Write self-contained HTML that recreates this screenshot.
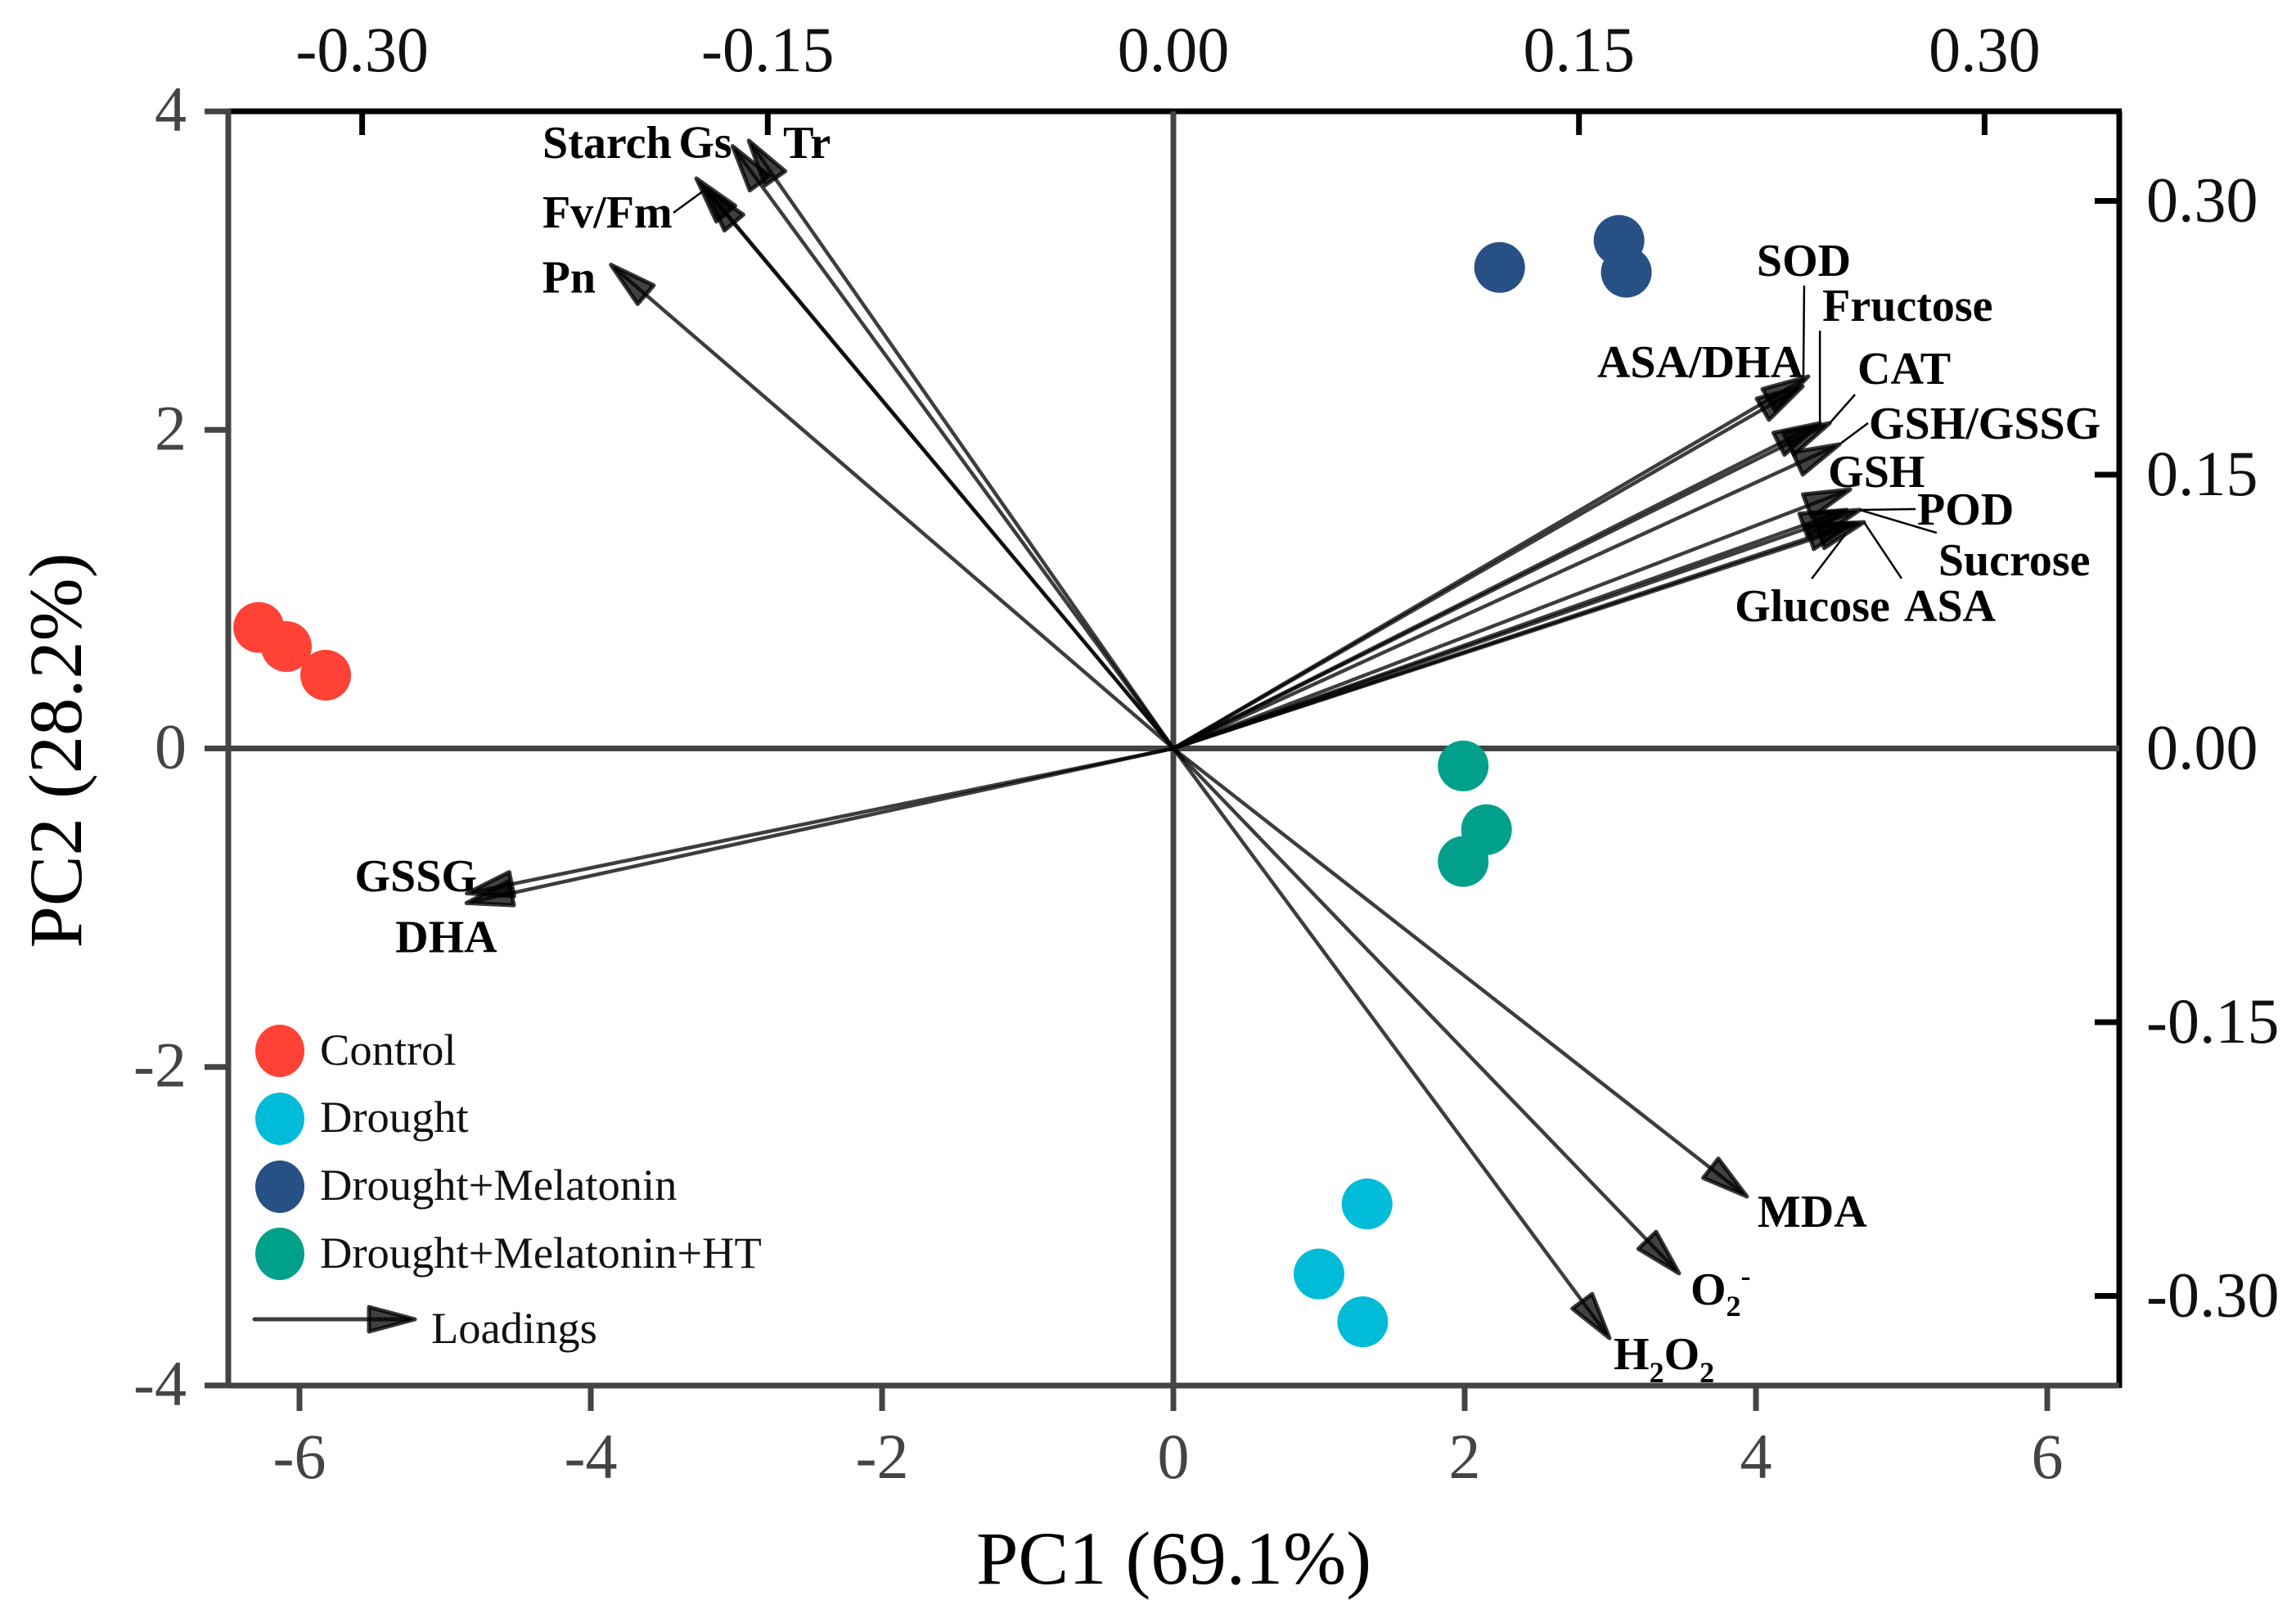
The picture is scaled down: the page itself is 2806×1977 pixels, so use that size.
<!DOCTYPE html>
<html lang="en">
<head>
<meta charset="utf-8">
<title>PCA biplot</title>
<style>
html,body{margin:0;padding:0;background:#fff;}
svg{display:block;font-family:"Liberation Serif",serif;}
</style>
</head>
<body>
<svg id="chart" xmlns="http://www.w3.org/2000/svg" width="2806" height="1977" viewBox="0 0 2806 1977">
  <rect x="0" y="0" width="2806" height="1977" fill="#fff"/>
  <g id="frame"></g>
  <g id="loadings"></g>
  <g id="scores"></g>
  <g id="labels"></g>
  <text x="1434.5" y="1935" font-size="92.5" text-anchor="middle" fill="#000">PC1 (69.1%)</text>
  <text transform="translate(99,917) rotate(-90)" font-size="92.5" text-anchor="middle" fill="#000">PC2 (28.2%)</text>
  <g font-size="54.5" fill="#111">
    <ellipse cx="342" cy="1284" rx="30" ry="32" fill="#ff4136"/>
    <text x="391" y="1301">Control</text>
    <ellipse cx="342" cy="1367" rx="30" ry="32" fill="#00bcd8"/>
    <text x="391" y="1383">Drought</text>
    <ellipse cx="342" cy="1450" rx="30" ry="32" fill="#275084"/>
    <text x="391" y="1466">Drought+Melatonin</text>
    <ellipse cx="342" cy="1532" rx="30" ry="32" fill="#00a08a"/>
    <text x="391" y="1549">Drought+Melatonin+HT</text>
    <line x1="311" y1="1612" x2="500" y2="1612" stroke="#000" stroke-opacity="0.76" stroke-width="5" stroke-linecap="round"/>
    <polygon points="507,1612 451,1597 451,1627" fill="#000" fill-opacity="0.74" stroke="#000" stroke-opacity="0.78" stroke-width="5" stroke-linejoin="round"/>
    <text x="527" y="1641">Loadings</text>
  </g>
</svg>
<script>
// ---- chart data ----
var pc1Ticks = [-6, -4, -2, 0, 2, 4, 6];
var pc2Ticks = [-4, -2, 0, 2, 4];
var loadingXTicks = [-0.30, -0.15, 0, 0.15, 0.30];
var loadingYTicks = [-0.30, -0.15, 0, 0.15, 0.30];

var controlPC1 = [-6.28, -6.09, -5.82];
var controlPC2 = [0.76, 0.64, 0.46];
var droughtPC1 = [1.33, 1.00, 1.30];
var droughtPC2 = [-2.86, -3.30, -3.60];
var melatoninPC1 = [2.24, 3.06, 3.11];
var melatoninPC2 = [3.02, 3.19, 2.99];
var melatoninHTPC1 = [1.99, 2.15, 1.99];
var melatoninHTPC2 = [-0.11, -0.51, -0.71];

var variableNames = ["Tr", "Gs", "Starch", "Fv/Fm", "Pn", "SOD", "ASA/DHA", "CAT", "Fructose", "GSH/GSSG", "GSH", "POD", "Sucrose", "ASA", "Glucose", "GSSG", "DHA", "MDA", "O2-", "H2O2"];
var loadingX = [-0.157, -0.163, -0.1764, -0.1734, -0.208, 0.2348, 0.2327, 0.2427, 0.2391, 0.2463, 0.2503, 0.2539, 0.2490, 0.2554, 0.2515, -0.2613, -0.2614, 0.2121, 0.1870, 0.1613];
var loadingY = [0.333, 0.330, 0.3123, 0.3074, 0.265, 0.2038, 0.1984, 0.1782, 0.1782, 0.1666, 0.1419, 0.1307, 0.1307, 0.1240, 0.1235, -0.0794, -0.0847, -0.2455, -0.2876, -0.3231];

// ---- axis functions ----
var plotLeft = 279, plotRight = 2590, plotTop = 136, plotBottom = 1693;
function xScale(v) { return 1434 + 178 * v; }
function yScale(v) { return 914.5 - 194.6 * v; }
function loadX(v) { return 1434 + v / 0.15 * 495.7; }
function loadY(v) { return 914.5 - v / 0.15 * 334.5; }

// ---- annotation layout (offsets from arrow tip) ----
var labelOffsets = {
  "Tr": [42, 21], "Gs": [-66, 14], "Starch": [-188, -25], "Fv/Fm": [-198, 49], "Pn": [-84, 34],
  "SOD": [-63, -123], "ASA/DHA": [-251, -11], "CAT": [34, -48], "Fructose": [3, -125],
  "GSH/GSSG": [36, -7], "GSH": [-27, -3], "POD": [70, 18], "Sucrose": [112, 80],
  "ASA": [49, 121], "Glucose": [-145, 120], "GSSG": [-137, -2.5], "DHA": [-87, 60],
  "MDA": [13, 37], "O2-": [14, 38], "H2O2": [5, 38]
};
var leaderOffsets = {
  "Fv/Fm": [-1, 4, -38, 31],
  "SOD": [-6, 0, -5, -111],
  "Fructose": [0, 0, 0, -113],
  "CAT": [0, 0, 31, -35],
  "GSH/GSSG": [0, 0, 35, -26],
  "POD": [0, 0, 68, -1],
  "Sucrose": [16, 0, 110, 28],
  "ASA": [0, 0, 46, 69],
  "Glucose": [-10, 14, -51, 68]
};
var labelRuns = {
  "O2-": [["O", 0, 56], ["2", 14, 36], ["-", -37, 36]],
  "H2O2": [["H", 0, 56], ["2", 16, 36], ["O", -16, 56], ["2", 16, 36]]
};

var NS = "http://www.w3.org/2000/svg";
function make(tag, parent, attrs) {
  var el = document.createElementNS(NS, tag);
  for (var k in attrs) el.setAttribute(k, attrs[k]);
  parent.appendChild(el);
  return el;
}
function slug(s) { return s.toLowerCase().replace(/[^a-z0-9]+/g, "-").replace(/-$/, ""); }

var frame = document.getElementById("frame");
var axisGray = "#444444";
var axisBlack = "#000000";

// ---- secondary axes (black) ----
var topAxis = make("line", frame, {x1: plotLeft, y1: plotTop, x2: plotRight + 3, y2: plotTop, stroke: axisBlack, "stroke-width": 7});


var rightAxis = make("line", frame, {x1: plotRight, y1: plotTop, x2: plotRight, y2: plotBottom + 3, stroke: axisBlack, "stroke-width": 7});



loadingXTicks.forEach(function (v) {
  var px = loadX(v);
  var tick = make("line", frame, {x1: px, y1: plotTop, x2: px, y2: 165, stroke: axisBlack, "stroke-width": 7});
  
  
  var label = make("text", frame, {x: px, y: 87, "font-size": 78, "text-anchor": "middle", fill: "#111"});
  
  
  label.textContent = v.toFixed(2);
});
loadingYTicks.forEach(function (v) {
  var py = loadY(v);
  var tick = make("line", frame, {x1: 2560, y1: py, x2: plotRight, y2: py, stroke: axisBlack, "stroke-width": 7});
  
  
  var label = make("text", frame, {x: 2623, y: py + 25, "font-size": 78, fill: "#111"});
  
  
  label.textContent = v.toFixed(2);
});

// ---- primary axes (gray) ----
var leftAxis = make("line", frame, {x1: plotLeft, y1: plotTop - 3, x2: plotLeft, y2: plotBottom + 3, stroke: axisGray, "stroke-width": 7});


var bottomAxis = make("line", frame, {x1: plotLeft, y1: plotBottom, x2: plotRight, y2: plotBottom, stroke: axisGray, "stroke-width": 7});


var zeroV = make("line", frame, {x1: xScale(0), y1: plotTop, x2: xScale(0), y2: plotBottom, stroke: axisGray, "stroke-width": 7});


var zeroH = make("line", frame, {x1: plotLeft, y1: yScale(0), x2: plotRight, y2: yScale(0), stroke: axisGray, "stroke-width": 7});



pc1Ticks.forEach(function (v) {
  var px = xScale(v);
  var tick = make("line", frame, {x1: px, y1: plotBottom, x2: px, y2: 1724, stroke: axisGray, "stroke-width": 7});
  
  
  var label = make("text", frame, {x: px, y: 1806, "font-size": 78, "text-anchor": "middle", fill: axisGray});
  
  
  label.textContent = String(v);
});
pc2Ticks.forEach(function (v) {
  var py = yScale(v);
  var tick = make("line", frame, {x1: 250, y1: py, x2: plotLeft, y2: py, stroke: axisGray, "stroke-width": 7});
  
  
  var label = make("text", frame, {x: 228, y: py + 24, "font-size": 78, "text-anchor": "end", fill: axisGray});
  
  
  label.textContent = String(v);
});

// ---- loading arrows ----
var loadingsGroup = document.getElementById("loadings");
var labelsGroup = document.getElementById("labels");
var headLength = 56, headHalf = 15;
variableNames.forEach(function (name, i) {
  var ox = loadX(0), oy = loadY(0);
  var tx = loadX(loadingX[i]), ty = loadY(loadingY[i]);
  var dx = tx - ox, dy = ty - oy;
  var len = Math.sqrt(dx * dx + dy * dy);
  var ux = dx / len, uy = dy / len;
  var bx = tx - ux * headLength, by = ty - uy * headLength;

  var shaft = make("line", loadingsGroup, {x1: ox, y1: oy, x2: tx - ux * 6, y2: ty - uy * 6, stroke: "#000", "stroke-opacity": 0.76, "stroke-width": 4.5});
  
  

  var pts = [tx, ty, bx - uy * headHalf, by + ux * headHalf, bx + uy * headHalf, by - ux * headHalf].join(" ");
  var head = make("polygon", loadingsGroup, {points: pts, fill: "#000", "fill-opacity": 0.74, stroke: "#000", "stroke-opacity": 0.78, "stroke-width": 5, "stroke-linejoin": "round"});
  
  

  var off = labelOffsets[name];
  var label = make("text", labelsGroup, {x: tx + off[0], y: ty + off[1], "font-size": 56, "font-weight": "bold", fill: "#000"});
  
  
  if (labelRuns[name]) {
    labelRuns[name].forEach(function (run) {
      var span = make("tspan", label, {dy: run[1], "font-size": run[2]});
      span.textContent = run[0];
    });
  } else {
    label.textContent = name;
  }

  var lead = leaderOffsets[name];
  if (lead) {
    var leader = make("line", labelsGroup, {x1: tx + lead[0], y1: ty + lead[1], x2: tx + lead[2], y2: ty + lead[3], stroke: "#000", "stroke-width": 2.5});
    
    
  }
});

// ---- score points ----
var scoresGroup = document.getElementById("scores");
function plotGroup(xs, ys, color, name) {
  xs.forEach(function (x, i) {
    var dot = make("circle", scoresGroup, {cx: xScale(x), cy: yScale(ys[i]), r: 31, fill: color});
    
    
  });
}
plotGroup(controlPC1, controlPC2, "#ff4136", "score-point-control");
plotGroup(droughtPC1, droughtPC2, "#00bcd8", "score-point-drought");
plotGroup(melatoninPC1, melatoninPC2, "#275084", "score-point-drought-melatonin");
plotGroup(melatoninHTPC1, melatoninHTPC2, "#00a08a", "score-point-drought-melatonin-ht");
</script>
</body>
</html>
